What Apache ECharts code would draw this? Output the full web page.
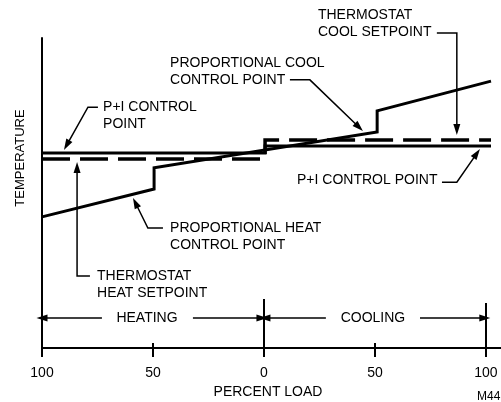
<!DOCTYPE html>
<html>
<head>
<meta charset="utf-8">
<script src="https://cdn.jsdelivr.net/npm/echarts@6/dist/echarts.min.js"></script>
<style>html,body{margin:0;padding:0;background:#fff;}#c{width:501px;height:402px;}</style>
</head>
<body>
<div id="c"></div>
<script>
// ---- data (percent load: negative = heating, positive = cooling; temperature in arbitrary units) ----
const loadTicks = [-100, -50, 0, 50, 100];
const piControlPoint = [[-100, 62.9], [0.5, 62.9], [0.5, 65.2], [102.3, 65.2]];
const thermostatSetpoints = [[-100, 61.0], [0.5, 61.0], [0.5, 67.1], [102.3, 67.1]];
const proportionalControlPoint = [[-100, 42.3], [-49.5, 51.3], [-49.5, 58.1], [51, 69.7], [51, 76.5], [102.3, 86.1]];
const dividerTops = [[-50, 1.6], [0, 15.8], [50, 1.6], [100, 14.5]];
const heatingArrow = [[-100, -73], [-32, -0.9]];
const coolingArrow = [[0.45, 27.9], [70.3, 99.5]];
const bandLevel = 9.7;
const bandLabels = [
  { text: ['HEATING'], at: [-52.7, 9.7], align: 'center' },
  { text: ['COOLING'], at: [49.1, 9.7], align: 'center' }
];
const annotations = [
  { text: ['P+I CONTROL', 'POINT'], at: [-72.5, 77.7], leader: [[-74.8, 77.7], [-79.3, 77.7], [-90.1, 63.9]] },
  { text: ['THERMOSTAT', 'HEAT SETPOINT'], at: [-75.2, 23.2], leader: [[-78.4, 23.2], [-84.2, 23.2], [-84.2, 60.0]] },
  { text: ['PROPORTIONAL HEAT', 'CONTROL POINT'], at: [-42.3, 38.7], leader: [[-45.5, 38.7], [-52.3, 38.7], [-59.0, 48.4]] },
  { text: ['PROPORTIONAL COOL', 'CONTROL POINT'], at: [-42.3, 91.9], leader: [[11.7, 86.5], [20.7, 86.5], [44.6, 70.0]] },
  { text: ['THERMOSTAT', 'COOL SETPOINT'], at: [24.3, 107.4], leader: [[77.9, 101.6], [86.9, 101.6], [86.9, 68.7]] },
  { text: ['P+I CONTROL POINT'], at: [14.9, 54.2], leader: [[80.2, 53.5], [86.9, 53.5], [97.3, 64.2]] }
].concat(bandLabels);

const FONT = '"Liberation Sans", Arial, sans-serif';
const chart = echarts.init(document.getElementById('c'), null, { renderer: 'canvas' });

function bandSeg(seg, startSym, endSym) {
  return [
    { coord: [seg[0], bandLevel], symbol: startSym },
    { coord: [seg[1], bandLevel], symbol: endSym }
  ];
}

const option = {
  animation: false,
  backgroundColor: '#fff',
  grid: { left: 42, right: 0, top: 38, bottom: 54 },
  xAxis: {
    type: 'value', min: -100, max: 106.8, interval: 50,
    axisLine: { show: true, lineStyle: { color: '#000', width: 2 } },
    axisTick: { show: true, customValues: loadTicks, length: 9, lineStyle: { color: '#000', width: 2 } },
    axisLabel: {
      show: true, customValues: loadTicks, margin: 18,
      color: '#000', fontSize: 14, fontFamily: FONT,
      formatter: v => (Math.abs(v) <= 100 ? String(Math.abs(v)) : '')
    },
    splitLine: { show: false }
  },
  yAxis: {
    type: 'value', min: 0, max: 100,
    axisLine: { show: true, onZero: false, lineStyle: { color: '#000', width: 2 } },
    axisTick: { show: false }, axisLabel: { show: false }, splitLine: { show: false }
  },
  graphic: [
    { type: 'text', x: 20, y: 158, rotation: Math.PI / 2,
      style: { text: 'TEMPERATURE', font: '13px ' + FONT, fill: '#000', align: 'center', verticalAlign: 'middle' } },
    { type: 'text', x: 268, y: 392,
      style: { text: 'PERCENT LOAD', font: '14px ' + FONT, fill: '#000', align: 'center', verticalAlign: 'middle' } },
    { type: 'text', x: 477, y: 397,
      style: { text: 'M4411', font: '12px ' + FONT, fill: '#000', align: 'left', verticalAlign: 'middle' } }
  ],
  series: [
    {
      name: 'Thermostat setpoints', type: 'line', data: thermostatSetpoints, symbol: 'none', silent: true,
      lineStyle: { color: '#000', width: 3.5, type: [28, 10], join: 'miter', cap: 'butt' }, z: 3
    },
    {
      name: 'P+I control point', type: 'line', data: piControlPoint, symbol: 'none', silent: true,
      lineStyle: { color: '#000', width: 3, join: 'miter' }, z: 4
    },
    {
      name: 'Proportional control point', type: 'line', data: proportionalControlPoint, symbol: 'none', silent: true,
      lineStyle: { color: '#000', width: 3, join: 'miter' }, z: 5
    },
    {
      name: 'dividers', type: 'line', data: [], silent: true,
      markLine: {
        silent: true, animation: false, symbol: 'none', label: { show: false },
        lineStyle: { color: '#000', width: 2, type: 'solid' },
        data: dividerTops.map(d => [{ coord: [d[0], 0] }, { coord: [d[0], d[1]] }])
      }
    },
    {
      name: 'bands', type: 'line', data: [], silent: true,
      markLine: {
        silent: true, animation: false, symbolSize: [7, 11], label: { show: false },
        lineStyle: { color: '#000', width: 1.5, type: 'solid' },
        data: [
          bandSeg(heatingArrow[0], 'triangle', 'none'),
          bandSeg(heatingArrow[1], 'none', 'triangle'),
          bandSeg(coolingArrow[0], 'triangle', 'none'),
          bandSeg(coolingArrow[1], 'none', 'triangle')
        ]
      }
    },
    {
      name: 'annotations', type: 'custom', silent: true, z: 10,
      data: annotations.map(a => [a.at[0], a.at[1]]),
      renderItem: function (params, api) {
        const a = annotations[params.dataIndex];
        const children = [];
        if (a.leader) {
          const pts = a.leader.map(p => api.coord(p));
          const n = pts.length;
          const [x2, y2] = pts[n - 1], [x1, y1] = pts[n - 2];
          const ang = Math.atan2(y2 - y1, x2 - x1);
          const L = 11, W = 3.5;
          const bx = x2 - L * Math.cos(ang), by = y2 - L * Math.sin(ang);
          const nx = -Math.sin(ang) * W, ny = Math.cos(ang) * W;
          const linePts = pts.slice(0, n - 1).concat([[x2 - (L - 2) * Math.cos(ang), y2 - (L - 2) * Math.sin(ang)]]);
          children.push({ type: 'polyline', shape: { points: linePts },
            style: { stroke: '#000', lineWidth: 1.5, fill: null, lineJoin: 'miter' } });
          children.push({ type: 'polygon', shape: { points: [[x2, y2], [bx + nx, by + ny], [bx - nx, by - ny]] },
            style: { fill: '#000', stroke: null } });
        }
        const t = api.coord(a.at);
        children.push({ type: 'text', x: t[0], y: t[1] - 8.5,
          style: { text: a.text.join('\n'), font: '14px ' + FONT, fill: '#000',
            align: a.align || 'left', verticalAlign: 'top', lineHeight: 17,
            backgroundColor: a.align === 'center' ? '#fff' : null } });
        return { type: 'group', children: children };
      }
    }
  ]
};
chart.setOption(option);
</script>
</body>
</html>
